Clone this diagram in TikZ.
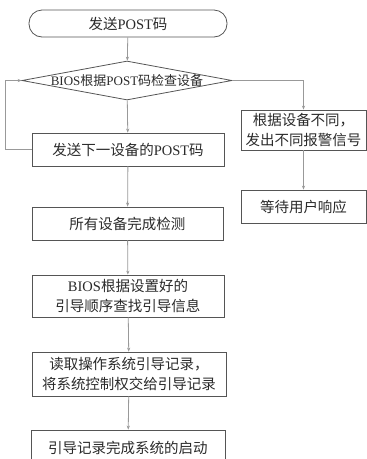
\documentclass[tikz,border=0pt]{standalone}
\usepackage{fontspec}
\setmainfont{Liberation Serif}
\newfontfamily\cjk{Noto Sans CJK SC}
\usetikzlibrary{shapes.geometric,arrows.meta}
\newcommand{\zh}[1]{{\cjk #1}}
\definecolor{boxline}{HTML}{555555}
\definecolor{conn}{HTML}{999999}
\definecolor{txt}{HTML}{2A2A2A}
\begin{document}
\begin{tikzpicture}[x=1pt,y=-1pt,
  box/.style={draw=boxline,line width=0.8pt,rectangle,inner sep=0pt,align=center,text=txt,
    font=\fontsize{14.5}{19.5}\selectfont},
  conn/.style={draw=conn,line width=0.8pt,-{Stealth[length=4pt,width=3.2pt]}}]
\useasboundingbox (0,0) rectangle (367,459);
\node[box,rounded corners=13pt,minimum width=198pt,minimum height=27pt] (start) at (128,23.5) {\zh{发送}POST\zh{码}};
\node[draw=boxline,line width=0.8pt,diamond,inner sep=0pt,minimum width=210pt,minimum height=39pt,
  label={[text=txt,font=\fontsize{13}{15}\selectfont]center:BIOS\zh{根据}POST\zh{码检查设备}}] (dia) at (127,80.5) {};
\node[box,minimum width=192pt,minimum height=33pt] (b1) at (128,149.5) {\zh{发送下一设备的}POST\zh{码}};
\node[box,minimum width=191pt,minimum height=33pt] (b2) at (127.5,223.5) {\zh{所有设备完成检测}};
\node[box,minimum width=192pt,minimum height=42pt] (b3) at (128,296) {BIOS\zh{根据设置好的}\\\zh{引导顺序查找引导信息}};
\node[box,minimum width=194pt,minimum height=44pt] (b4) at (129,374) {\zh{读取操作系统引导记录，}\\\zh{将系统控制权交给引导记录}};
\node[box,minimum width=194pt,minimum height=35pt] (b5) at (128,447.5) {\zh{引导记录完成系统的启动}};
\node[box,minimum width=125pt,minimum height=40pt] (ra) at (303.5,130) {\zh{根据设备不同，}\\\zh{发出不同报警信号}};
\node[box,minimum width=125pt,minimum height=33pt] (rb) at (303.5,206.5) {\zh{等待用户响应}};
\coordinate (fb) at (5,149.5);
\draw[conn] (start) -- (dia);
\draw[conn] (dia) -- (b1);
\draw[conn] (b1) -- (b2);
\draw[conn] (b2) -- (b3);
\draw[conn] (b3) -- (b4);
\draw[conn] (b4) -- (b5);
\draw[conn] (dia.east) -| (ra.north);
\draw[conn] (ra) -- (rb);
\draw[conn] (b1.west) -- (fb) |- (dia.west);
\end{tikzpicture}
\end{document}
